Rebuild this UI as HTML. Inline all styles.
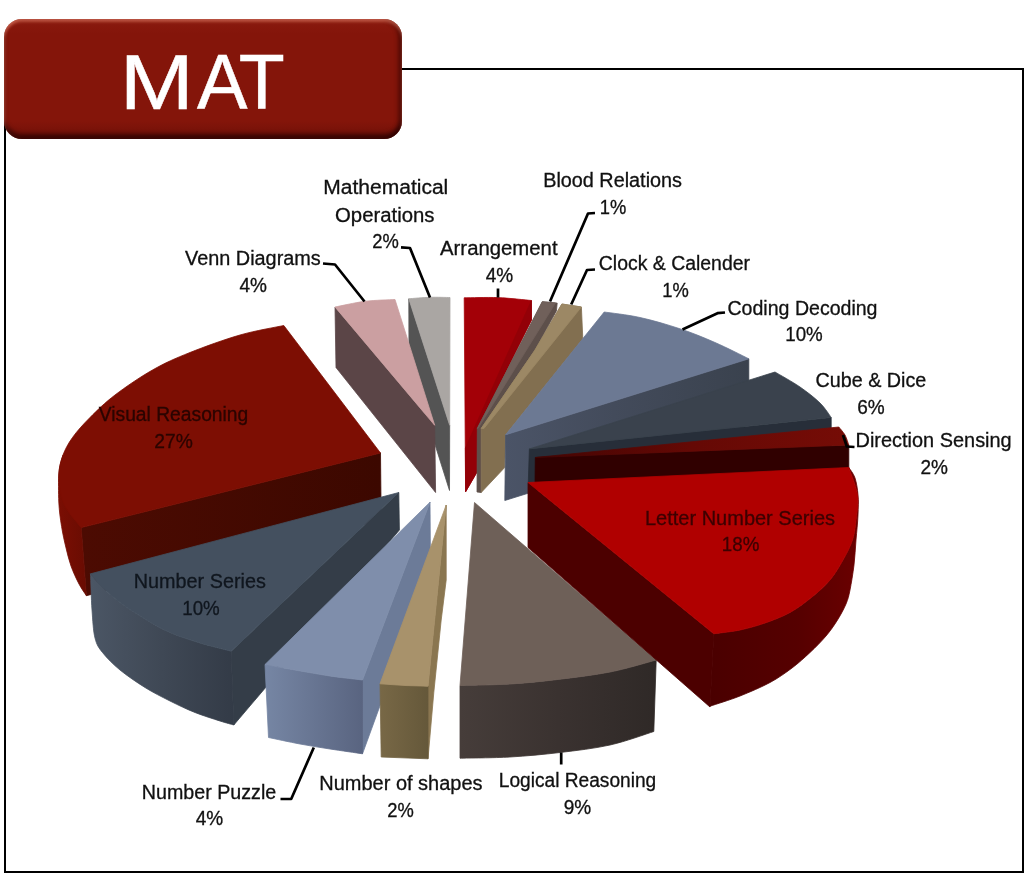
<!DOCTYPE html>
<html lang="en"><head><meta charset="utf-8"><title>MAT</title>
<style>
html,body{margin:0;padding:0;background:#fff;}
body{width:1024px;height:873px;overflow:hidden;position:relative;font-family:"Liberation Sans",sans-serif;}
#frame{position:absolute;left:4px;top:68px;width:1016px;height:801px;border:2px solid #000;box-sizing:content-box;}
#title{position:absolute;left:4px;top:19px;width:398px;height:120px;border-radius:18px;
 background:linear-gradient(#8a1a0f 0%,#84150a 12%,#84150a 85%,#6e1008 100%);
 box-shadow:inset 0 3px 3px rgba(255,150,125,.45),inset 0 -5px 4px rgba(35,0,0,.7),inset 2px 0 3px rgba(255,150,130,.18),inset -4px 0 4px rgba(35,0,0,.45);
}
svg{position:absolute;left:0;top:0;}
svg text{font-family:"Liberation Sans",sans-serif;font-size:19.5px;}
svg g.ttl text{font-size:78px;}
svg g.lb text{stroke:currentColor;stroke-width:.3px;}
</style></head><body>
<div id="frame"></div>
<div id="title"></div>
<svg width="1024" height="873" viewBox="0 0 1024 873">
<defs>
<linearGradient id="gcs" gradientUnits="userSpaceOnUse" x1="505" y1="0" x2="748" y2="0"><stop offset="0" stop-color="#4b5467"/><stop offset="0.45" stop-color="#434b5b"/><stop offset="1" stop-color="#3a424e"/></linearGradient>
<linearGradient id="gds" gradientUnits="userSpaceOnUse" x1="535" y1="0" x2="850" y2="0"><stop offset="0" stop-color="#430402"/><stop offset="0.5" stop-color="#650905"/><stop offset="1" stop-color="#760c06"/></linearGradient>
<linearGradient id="glr" gradientUnits="userSpaceOnUse" x1="460" y1="0" x2="656" y2="0"><stop offset="0" stop-color="#463d3a"/><stop offset="0.5" stop-color="#3a3230"/><stop offset="1" stop-color="#2f2927"/></linearGradient>
<linearGradient id="glnr" gradientUnits="userSpaceOnUse" x1="710" y1="0" x2="858" y2="0"><stop offset="0" stop-color="#4a0000"/><stop offset="0.6" stop-color="#560000"/><stop offset="1" stop-color="#6a0000"/></linearGradient>
<linearGradient id="gvf" gradientUnits="userSpaceOnUse" x1="81" y1="0" x2="381" y2="0"><stop offset="0" stop-color="#4c0b02"/><stop offset="1" stop-color="#3c0800"/></linearGradient>
<linearGradient id="gvr" gradientUnits="userSpaceOnUse" x1="58" y1="0" x2="86" y2="0"><stop offset="0" stop-color="#7b0e03"/><stop offset="1" stop-color="#690c02"/></linearGradient>
<linearGradient id="gns" gradientUnits="userSpaceOnUse" x1="90" y1="0" x2="234" y2="0"><stop offset="0" stop-color="#4b5665"/><stop offset="0.5" stop-color="#3f4855"/><stop offset="1" stop-color="#333b47"/></linearGradient>
<linearGradient id="gnp" gradientUnits="userSpaceOnUse" x1="265" y1="0" x2="363" y2="0"><stop offset="0" stop-color="#7686a4"/><stop offset="1" stop-color="#596480"/></linearGradient>
<linearGradient id="gtr" gradientUnits="userSpaceOnUse" x1="380" y1="0" x2="428" y2="0"><stop offset="0" stop-color="#786846"/><stop offset="1" stop-color="#65583a"/></linearGradient>
</defs>
<g shape-rendering="geometricPrecision">
<path d="M408.8 298.8 L449.7 425.3 L449.5 490.5 L409.0 362.0Z" fill="#545454" stroke="#545454" stroke-width="0.8" stroke-linejoin="round" />
<path d="M408.8 298.8 C412.3 298.5 423.1 297.5 430.0 297.3 C436.9 297.1 446.7 297.5 450.0 297.5 L449.7 425.3Z" fill="#aaa6a3" stroke="#aaa6a3" stroke-width="0.8" stroke-linejoin="round" />
<path d="M335.0 307.0 L434.7 425.3 L435.6 492.5 L336.0 367.5Z" fill="#5b4547" stroke="#5b4547" stroke-width="0.8" stroke-linejoin="round" />
<path d="M335.0 307.0 C340.0 306.1 355.0 302.6 365.0 301.3 C375.0 300.1 390.0 299.8 395.0 299.5 L434.7 425.3Z" fill="#cb9fa1" stroke="#cb9fa1" stroke-width="0.8" stroke-linejoin="round" />
<path d="M464.2 297.8 C469.8 297.8 486.8 297.2 498.0 297.6 C509.2 298.1 525.8 300.0 531.4 300.5 L531.4 320.0 L477.3 428.4 L477.0 472.0 L465.6 491.8Z" fill="#a30007" stroke="#a30007" stroke-width="0.8" stroke-linejoin="round" />
<path d="M531.4 300.5 L531.4 320.0 L477.3 428.4 L477.0 472.0 L465.6 491.8 L465.4 448.0Z" fill="#930007" stroke="#930007" stroke-width="0.8" stroke-linejoin="round" />
<path d="M542.3 301.7 L557.2 303.1 L556.4 311.0 L535.0 350.0 L481.2 428.4 L481.2 492.5 L477.0 492.0 L477.3 428.4Z" fill="#5d4f4a" stroke="#5d4f4a" stroke-width="0.8" stroke-linejoin="round" />
<path d="M542.3 301.7 L555.5 303.0 L478.0 428.4 L477.3 428.4Z" fill="#70605a" stroke="#70605a" stroke-width="0.8" stroke-linejoin="round" />
<path d="M581.4 307.0 L582.8 338.8 L505.6 434.8 L504.7 467.5 L481.2 492.5 L481.2 428.4 L535.0 350.0 L561.9 304.0Z" fill="#826f50" stroke="#826f50" stroke-width="0.8" stroke-linejoin="round" />
<path d="M561.9 304.0 L581.4 307.0 L484.0 428.4 L481.2 428.4 L535.0 350.0Z" fill="#9c8865" stroke="#9c8865" stroke-width="0.8" stroke-linejoin="round" />
<path d="M505.6 434.8 L748.8 358.8 L748.8 424.7 L504.8 500.5Z" fill="url(#gcs)" stroke="url(#gcs)" stroke-width="0.8" stroke-linejoin="round" />
<path d="M604.2 312.0 C610.2 312.9 627.4 314.7 640.0 317.5 C652.6 320.3 667.5 324.6 680.0 328.8 C692.5 332.9 703.5 337.5 715.0 342.5 C726.5 347.5 743.1 356.0 748.8 358.8 L505.6 434.8Z" fill="#6c7993" stroke="#6c7993" stroke-width="0.8" stroke-linejoin="round" />
<path d="M529.4 448.9 L831.2 417.5 L831.2 470.0 L528.3 482.0Z" fill="#272e39" stroke="#272e39" stroke-width="0.8" stroke-linejoin="round" />
<path d="M529.4 448.9 L775.0 372.0 C779.2 374.5 792.5 381.8 800.0 387.0 C807.5 392.2 814.8 397.9 820.0 403.0 C825.2 408.1 829.4 415.1 831.2 417.5Z" fill="#3a424d" stroke="#3a424d" stroke-width="0.8" stroke-linejoin="round" />
<path d="M535.3 457.5 L848.8 445.0 L848.8 470.0 L535.0 484.0Z" fill="#300000" stroke="#300000" stroke-width="0.8" stroke-linejoin="round" />
<path d="M535.3 457.5 L838.8 427.0 C839.8 428.3 843.3 432.0 845.0 435.0 C846.7 438.0 848.1 443.3 848.8 445.0Z" fill="url(#gds)" stroke="url(#gds)" stroke-width="0.8" stroke-linejoin="round" />
<path d="M460.0 685.5 C468.3 685.2 493.8 685.0 510.0 684.0 C526.2 683.0 540.8 681.5 557.5 679.5 C574.2 677.5 593.5 675.2 610.0 672.0 C626.5 668.8 648.5 662.0 656.2 660.0 L653.8 731.5 C646.5 733.8 625.6 741.5 610.0 745.0 C594.4 748.5 576.7 750.5 560.0 752.5 C543.3 754.5 526.7 756.0 510.0 757.0 C493.3 758.0 468.3 758.0 460.0 758.2Z" fill="url(#glr)" stroke="url(#glr)" stroke-width="0.8" stroke-linejoin="round" />
<path d="M474.5 502.5 L656.2 660.0 C648.5 662.0 626.5 668.8 610.0 672.0 C593.5 675.2 574.2 677.5 557.5 679.5 C540.8 681.5 526.2 683.0 510.0 684.0 C493.8 685.0 468.3 685.2 460.0 685.5Z" fill="#6e6058" stroke="#6e6058" stroke-width="0.8" stroke-linejoin="round" />
<path d="M710.0 706.2 C715.0 704.5 730.0 700.0 740.0 696.0 C750.0 692.0 761.3 687.2 770.0 682.5 C778.7 677.8 785.3 673.0 792.0 668.0 C798.7 663.0 804.3 657.8 810.0 652.5 C815.7 647.2 821.4 641.4 826.0 636.0 C830.6 630.6 834.2 625.3 837.5 620.0 C840.8 614.7 843.9 609.0 846.0 604.0 C848.1 599.0 848.7 596.5 850.0 590.0 C851.3 583.5 853.0 573.3 854.0 565.0 C855.0 556.7 855.3 548.3 856.0 540.0 C856.7 531.7 857.7 522.5 858.0 515.0 C858.3 507.5 858.5 501.2 858.0 495.0 C857.5 488.8 856.5 482.6 855.0 478.0 C853.5 473.4 849.8 469.2 848.8 467.5 L848.8 467.5 C850.2 472.1 856.3 486.2 857.5 495.0 C858.7 503.8 856.8 512.5 856.0 520.0 C855.2 527.5 854.7 533.3 852.5 540.0 C850.3 546.7 846.8 553.3 843.0 560.0 C839.2 566.7 835.2 573.8 830.0 580.0 C824.8 586.2 818.7 591.6 812.0 597.0 C805.3 602.4 797.8 608.2 790.0 612.5 C782.2 616.8 773.3 620.1 765.0 623.0 C756.7 625.9 748.5 628.2 740.0 630.0 C731.5 631.8 718.1 633.1 713.8 633.8Z" fill="url(#glnr)" stroke="url(#glnr)" stroke-width="0.8" stroke-linejoin="round" />
<path d="M528.0 482.5 L713.8 633.8 L710.0 707.0 L528.0 547.5Z" fill="#4c0000" stroke="#4c0000" stroke-width="0.8" stroke-linejoin="round" />
<path d="M528.0 482.5 L848.8 467.5 C850.2 472.1 856.3 486.2 857.5 495.0 C858.7 503.8 856.8 512.5 856.0 520.0 C855.2 527.5 854.7 533.3 852.5 540.0 C850.3 546.7 846.8 553.3 843.0 560.0 C839.2 566.7 835.2 573.8 830.0 580.0 C824.8 586.2 818.7 591.6 812.0 597.0 C805.3 602.4 797.8 608.2 790.0 612.5 C782.2 616.8 773.3 620.1 765.0 623.0 C756.7 625.9 748.5 628.2 740.0 630.0 C731.5 631.8 718.1 633.1 713.8 633.8Z" fill="#b00000" stroke="#b00000" stroke-width="0.8" stroke-linejoin="round" />
<path d="M81.2 527.6 L380.5 453.0 L381.2 520.0 L86.4 595.7Z" fill="url(#gvf)" stroke="url(#gvf)" stroke-width="0.8" stroke-linejoin="round" />
<path d="M63.0 455.0 C62.3 457.8 59.7 464.2 59.0 472.0 C58.3 479.8 58.4 492.9 58.8 502.0 C59.2 511.1 60.4 519.1 61.6 526.6 C62.8 534.1 64.2 540.4 65.8 547.0 C67.4 553.6 68.8 559.8 71.0 566.0 C73.2 572.2 76.4 579.0 79.0 584.0 C81.6 589.0 85.2 593.8 86.4 595.7 L81.2 527.6 L90.0 470.0Z" fill="url(#gvr)" stroke="url(#gvr)" stroke-width="0.8" stroke-linejoin="round" />
<path d="M283.8 325.5 C276.5 327.1 255.6 330.5 240.0 335.0 C224.4 339.5 204.6 346.7 190.0 352.5 C175.4 358.3 165.0 362.9 152.5 370.0 C140.0 377.1 125.4 387.1 115.0 395.0 C104.6 402.9 97.1 410.4 90.0 417.5 C82.9 424.6 77.0 431.2 72.5 437.5 C68.0 443.8 65.2 449.2 63.0 455.0 C60.8 460.8 59.5 466.2 59.0 472.0 C58.5 477.8 58.8 484.0 60.0 490.0 C61.2 496.0 62.5 501.7 66.0 508.0 C69.5 514.3 78.7 524.3 81.2 527.6 L380.5 453.0Z" fill="#7d0e03" stroke="#7d0e03" stroke-width="0.8" stroke-linejoin="round" />
<path d="M398.8 492.5 L399.4 530.0 L233.8 725.0 L231.2 651.2Z" fill="#343d48" stroke="#343d48" stroke-width="0.8" stroke-linejoin="round" />
<path d="M90.5 573.8 C92.1 575.6 95.1 580.2 100.0 585.0 C104.9 589.8 112.5 596.8 120.0 602.5 C127.5 608.2 136.7 614.0 145.0 619.0 C153.3 624.0 160.8 628.5 170.0 632.5 C179.2 636.5 189.8 639.9 200.0 643.0 C210.2 646.1 226.0 649.9 231.2 651.2 L233.8 725.0 C231.5 724.3 226.5 723.1 220.0 721.0 C213.5 718.9 203.3 715.8 195.0 712.5 C186.7 709.2 178.3 705.2 170.0 701.0 C161.7 696.8 153.3 692.7 145.0 687.5 C136.7 682.3 127.1 675.8 120.0 670.0 C112.9 664.2 106.7 657.8 102.5 652.5 C98.3 647.2 96.8 645.1 95.0 638.0 C93.2 630.9 92.8 620.7 92.0 610.0 C91.2 599.3 90.8 579.8 90.5 573.8Z" fill="url(#gns)" stroke="url(#gns)" stroke-width="0.8" stroke-linejoin="round" />
<path d="M90.5 573.8 C92.1 575.6 95.1 580.2 100.0 585.0 C104.9 589.8 112.5 596.8 120.0 602.5 C127.5 608.2 136.7 614.0 145.0 619.0 C153.3 624.0 160.8 628.5 170.0 632.5 C179.2 636.5 189.8 639.9 200.0 643.0 C210.2 646.1 226.0 649.9 231.2 651.2 L398.8 492.5Z" fill="#44505f" stroke="#44505f" stroke-width="0.8" stroke-linejoin="round" />
<path d="M430.0 502.2 L430.5 567.0 L362.5 753.8 L362.5 680.0Z" fill="#6c7b98" stroke="#6c7b98" stroke-width="0.8" stroke-linejoin="round" />
<path d="M265.0 664.5 C270.0 665.4 284.2 668.1 295.0 670.0 C305.8 671.9 318.8 674.3 330.0 676.0 C341.2 677.7 357.1 679.3 362.5 680.0 L362.5 753.8 C357.1 753.0 340.4 750.6 330.0 749.0 C319.6 747.4 310.2 745.9 300.0 744.0 C289.8 742.1 273.8 738.6 268.5 737.5Z" fill="url(#gnp)" stroke="url(#gnp)" stroke-width="0.8" stroke-linejoin="round" />
<path d="M265.0 664.5 C270.0 665.4 284.2 668.1 295.0 670.0 C305.8 671.9 318.8 674.3 330.0 676.0 C341.2 677.7 357.1 679.3 362.5 680.0 L430.0 502.2Z" fill="#7f8eab" stroke="#7f8eab" stroke-width="0.8" stroke-linejoin="round" />
<path d="M446.2 505.0 L446.2 580.0 L441.2 620.0 L433.8 692.5 L428.0 758.8 L428.0 686.2Z" fill="#8a7650" stroke="#8a7650" stroke-width="0.8" stroke-linejoin="round" />
<path d="M380.0 683.8 L428.0 686.2 L428.0 758.8 L381.2 757.0Z" fill="url(#gtr)" stroke="url(#gtr)" stroke-width="0.8" stroke-linejoin="round" />
<path d="M380.0 683.8 L446.2 505.0 L428.0 686.2 L405.0 685.5Z" fill="#a8926b" stroke="#a8926b" stroke-width="0.8" stroke-linejoin="round" />
</g>
<g>
<polyline points="323.0,263.5 335.0,264.5 364.5,301.5" fill="none" stroke="#000" stroke-width="2.7" stroke-linejoin="round"/>
<polyline points="401.0,247.3 410.0,248.0 430.0,297.5" fill="none" stroke="#000" stroke-width="2.7" stroke-linejoin="round"/>
<polyline points="498.0,288.5 498.0,297.5" fill="none" stroke="#000" stroke-width="2.7" stroke-linejoin="round"/>
<polyline points="595.0,213.0 588.0,213.5 550.0,301.5" fill="none" stroke="#000" stroke-width="2.7" stroke-linejoin="round"/>
<polyline points="595.0,269.5 587.0,270.0 571.2,304.5" fill="none" stroke="#000" stroke-width="2.7" stroke-linejoin="round"/>
<polyline points="725.0,312.5 717.5,313.2 682.5,329.5" fill="none" stroke="#000" stroke-width="2.7" stroke-linejoin="round"/>
<polyline points="843.0,435.0 846.8,446.5 854.5,447.0" fill="none" stroke="#000" stroke-width="2.7" stroke-linejoin="round"/>
<polyline points="561.2,752.5 561.2,764.5" fill="none" stroke="#000" stroke-width="2.7" stroke-linejoin="round"/>
<polyline points="313.8,747.5 291.2,799.0 280.5,799.0" fill="none" stroke="#000" stroke-width="2.7" stroke-linejoin="round"/>
</g>
<g class="lb">
<text x="252.9" y="265.4" text-anchor="middle" fill="#111" color="#111" textLength="135.8" lengthAdjust="spacingAndGlyphs">Venn Diagrams</text>
<text x="253.2" y="292.4" text-anchor="middle" fill="#111" color="#111" textLength="27.5" lengthAdjust="spacingAndGlyphs">4%</text>
<text x="385.8" y="194.1" text-anchor="middle" fill="#111" color="#111" textLength="125.0" lengthAdjust="spacingAndGlyphs">Mathematical</text>
<text x="384.8" y="221.6" text-anchor="middle" fill="#111" color="#111" textLength="99.5" lengthAdjust="spacingAndGlyphs">Operations</text>
<text x="385.6" y="247.8" text-anchor="middle" fill="#111" color="#111" textLength="26.5" lengthAdjust="spacingAndGlyphs">2%</text>
<text x="498.8" y="255.3" text-anchor="middle" fill="#111" color="#111" textLength="117.5" lengthAdjust="spacingAndGlyphs">Arrangement</text>
<text x="499.5" y="282.4" text-anchor="middle" fill="#111" color="#111" textLength="27.5" lengthAdjust="spacingAndGlyphs">4%</text>
<text x="612.6" y="187.3" text-anchor="middle" fill="#111" color="#111" textLength="138.8" lengthAdjust="spacingAndGlyphs">Blood Relations</text>
<text x="613.0" y="214.1" text-anchor="middle" fill="#111" color="#111" textLength="26.5" lengthAdjust="spacingAndGlyphs">1%</text>
<text x="674.4" y="270.4" text-anchor="middle" fill="#111" color="#111" textLength="151.2" lengthAdjust="spacingAndGlyphs">Clock &amp; Calender</text>
<text x="675.6" y="297.4" text-anchor="middle" fill="#111" color="#111" textLength="26.5" lengthAdjust="spacingAndGlyphs">1%</text>
<text x="802.5" y="315.4" text-anchor="middle" fill="#111" color="#111" textLength="150.0" lengthAdjust="spacingAndGlyphs">Coding Decoding</text>
<text x="804.0" y="341.1" text-anchor="middle" fill="#111" color="#111" textLength="37.5" lengthAdjust="spacingAndGlyphs">10%</text>
<text x="870.9" y="386.6" text-anchor="middle" fill="#111" color="#111" textLength="110.8" lengthAdjust="spacingAndGlyphs">Cube &amp; Dice</text>
<text x="871.0" y="413.6" text-anchor="middle" fill="#111" color="#111" textLength="27.5" lengthAdjust="spacingAndGlyphs">6%</text>
<text x="933.6" y="447.4" text-anchor="middle" fill="#111" color="#111" textLength="156.2" lengthAdjust="spacingAndGlyphs">Direction Sensing</text>
<text x="934.2" y="474.1" text-anchor="middle" fill="#111" color="#111" textLength="27.5" lengthAdjust="spacingAndGlyphs">2%</text>
<text x="740.0" y="524.6" text-anchor="middle" fill="#3c0000" color="#3c0000" textLength="190.0" lengthAdjust="spacingAndGlyphs">Letter Number Series</text>
<text x="740.6" y="551.1" text-anchor="middle" fill="#3c0000" color="#3c0000" textLength="37.5" lengthAdjust="spacingAndGlyphs">18%</text>
<text x="577.5" y="787.4" text-anchor="middle" fill="#111" color="#111" textLength="157.5" lengthAdjust="spacingAndGlyphs">Logical Reasoning</text>
<text x="577.5" y="814.1" text-anchor="middle" fill="#111" color="#111" textLength="27.5" lengthAdjust="spacingAndGlyphs">9%</text>
<text x="400.9" y="790.4" text-anchor="middle" fill="#111" color="#111" textLength="163.2" lengthAdjust="spacingAndGlyphs">Number of shapes</text>
<text x="400.5" y="816.6" text-anchor="middle" fill="#111" color="#111" textLength="26.5" lengthAdjust="spacingAndGlyphs">2%</text>
<text x="209.0" y="798.6" text-anchor="middle" fill="#111" color="#111" textLength="134.5" lengthAdjust="spacingAndGlyphs">Number Puzzle</text>
<text x="209.4" y="825.4" text-anchor="middle" fill="#111" color="#111" textLength="27.5" lengthAdjust="spacingAndGlyphs">4%</text>
<text x="199.8" y="587.9" text-anchor="middle" fill="#10161e" color="#10161e" textLength="132.0" lengthAdjust="spacingAndGlyphs">Number Series</text>
<text x="201.0" y="615.4" text-anchor="middle" fill="#10161e" color="#10161e" textLength="37.5" lengthAdjust="spacingAndGlyphs">10%</text>
<text x="173.5" y="420.9" text-anchor="middle" fill="#2a0400" color="#2a0400" textLength="149.5" lengthAdjust="spacingAndGlyphs">Visual Reasoning</text>
<text x="173.5" y="447.9" text-anchor="middle" fill="#2a0400" color="#2a0400" textLength="38.5" lengthAdjust="spacingAndGlyphs">27%</text>
</g>
<g class="ttl" fill="#fff" stroke="#fff" stroke-width="0.5" text-anchor="middle"><text y="109.3"><tspan x="156.7" textLength="74" lengthAdjust="spacingAndGlyphs">M</tspan><tspan x="222.3" textLength="50.5" lengthAdjust="spacingAndGlyphs">A</tspan><tspan x="261.8" textLength="46" lengthAdjust="spacingAndGlyphs">T</tspan></text></g>
</svg>
</body></html>
